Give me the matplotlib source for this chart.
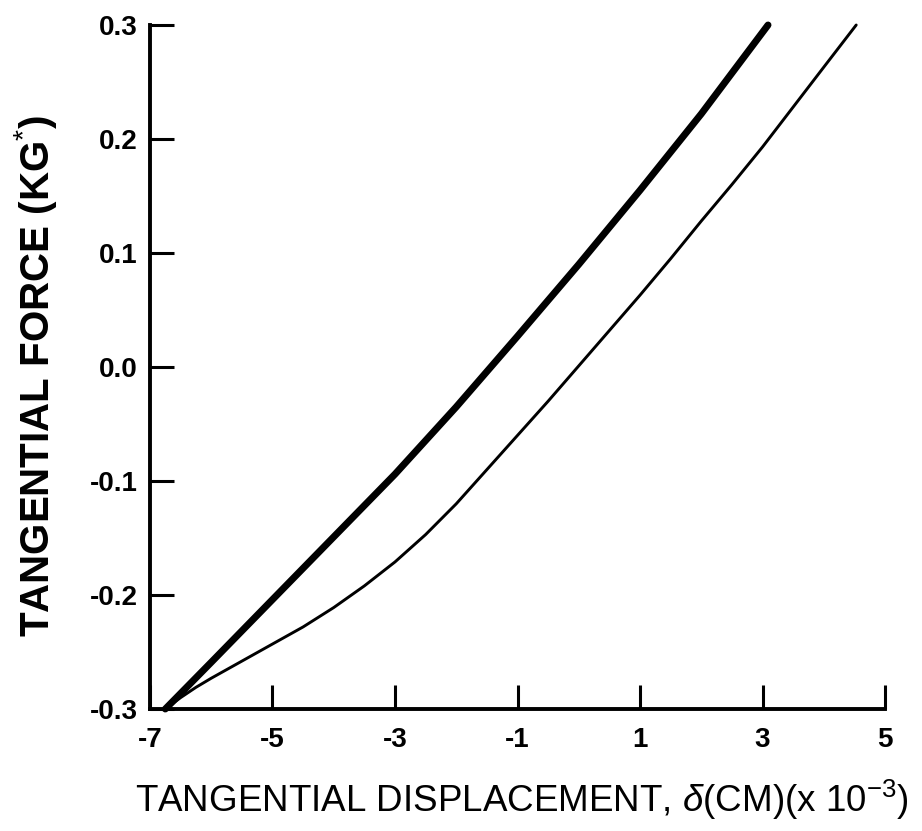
import matplotlib
matplotlib.use("Agg")
import matplotlib.pyplot as plt

plt.rcParams['font.family'] = ['Liberation Sans', 'DejaVu Sans']
plt.rcParams['mathtext.fontset'] = 'custom'
plt.rcParams['mathtext.rm'] = 'Liberation Sans'
plt.rcParams['mathtext.it'] = 'Liberation Sans:italic'
plt.rcParams['mathtext.bf'] = 'Liberation Sans:bold'

# Data (displacement in 1e-3 cm, force in kg*)
thick_x = [-6.75, -6.0, -5.0, -4.0, -3.0, -2.0, -1.0, 0.0, 1.0, 2.0, 3.09]
thick_y = [-0.300, -0.259, -0.204, -0.149, -0.094, -0.035, 0.027, 0.090, 0.155, 0.222, 0.300]

thin_x = [-6.75, -6.5, -6.25, -6.0, -5.5, -5.0, -4.5, -4.0, -3.5, -3.0, -2.5, -2.0, -1.5,
          -1.0, -0.5, 0.0, 0.5, 1.0, 1.5, 2.0, 2.5, 3.0, 3.5, 4.0, 4.53]
thin_y = [-0.300, -0.290, -0.281, -0.273, -0.258, -0.243, -0.228, -0.211, -0.192, -0.171,
          -0.147, -0.120, -0.090, -0.060, -0.030, 0.001, 0.032, 0.063, 0.095, 0.128,
          0.160, 0.193, 0.228, 0.263, 0.300]

x_ticks = [-7, -5, -3, -1, 1, 3, 5]
x_ticklabels = ['-7', '-5', '-3', '-1', '1', '3', '5']
y_ticks = [-0.3, -0.2, -0.1, 0.0, 0.1, 0.2, 0.3]
y_ticklabels = ['-0.3', '-0.2', '-0.1', '0.0', '0.1', '0.2', '0.3']

fig = plt.figure(figsize=(9.22, 8.31), dpi=100)
ax = fig.add_axes([150/922, 122/831, 735/922, 684/831])

ax.plot(thick_x, thick_y, color='black', lw=5.0, solid_capstyle='round',
        solid_joinstyle='round', clip_on=False, zorder=3)
ax.plot(thin_x, thin_y, color='black', lw=2.1, solid_capstyle='round',
        solid_joinstyle='round', clip_on=False, zorder=3)

ax.set_xlim(-7, 5)
ax.set_ylim(-0.3, 0.3)
for s in ['top', 'right']:
    ax.spines[s].set_visible(False)
for s in ['left', 'bottom']:
    ax.spines[s].set_linewidth(2.8)
    ax.spines[s].set_capstyle('projecting')

ax.set_xticks(x_ticks)
ax.set_xticklabels(x_ticklabels, fontsize=20, fontweight='bold')
ax.set_yticks(y_ticks)
ax.set_yticklabels(y_ticklabels, fontsize=20, fontweight='bold')
ax.tick_params(axis='both', direction='in', length=17, width=2.2)
ax.tick_params(axis='x', pad=13)
ax.tick_params(axis='y', pad=9)

ax.set_xlabel(r'TANGENTIAL DISPLACEMENT, $\delta$(CM)(x 10$^{-3}$)', fontsize=26.5)
ax.set_ylabel(r'TANGENTIAL FORCE (KG$^{*}$)', fontsize=29, fontweight='bold')
ax.xaxis.set_label_coords((521.5 - 150) / 735, (709 - 778) / 684)
ax.yaxis.set_label_coords((59 - 150) / 735, (709 - 376) / 684)

fig.savefig('out.png', dpi=100)
